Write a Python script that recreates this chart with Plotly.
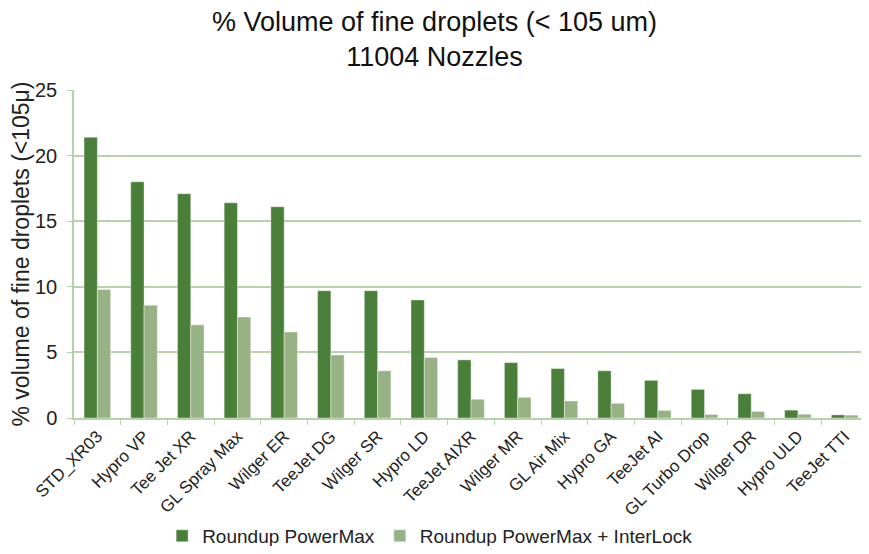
import plotly.graph_objects as go

categories = ["STD_XR03", "Hypro VP", "Tee Jet XR", "GL Spray Max", "Wilger ER",
              "TeeJet DG", "Wilger SR", "Hypro LD", "TeeJet AIXR", "Wilger MR",
              "GL Air Mix", "Hypro GA", "TeeJet AI", "GL Turbo Drop", "Wilger DR",
              "Hypro ULD", "TeeJet TTI"]
powermax = [21.4, 18.0, 17.1, 16.4, 16.1, 9.7, 9.7, 9.0, 4.43, 4.22,
            3.77, 3.6, 2.87, 2.18, 1.85, 0.6, 0.24]
powermax_interlock = [9.8, 8.6, 7.1, 7.7, 6.56, 4.8, 3.6, 4.62, 1.43, 1.58,
                      1.3, 1.12, 0.58, 0.27, 0.5, 0.29, 0.22]
y_ticks = [0, 5, 10, 15, 20, 25]

dark = "#4A7F3A"
light = "#97B385"
grid = "#B9D0AD"

fig = go.Figure()
fig.add_trace(go.Bar(x=categories, y=powermax, name="Roundup PowerMax",
                     marker=dict(color=dark, line=dict(color="rgba(255,255,255,0.5)", width=0.8))))
fig.add_trace(go.Bar(x=categories, y=powermax_interlock, name="Roundup PowerMax + InterLock",
                     marker=dict(color=light, line=dict(color="rgba(255,255,255,0.5)", width=0.8))))

fig.update_layout(
    width=853, height=538,
    margin=dict(l=66, r=0, t=82, b=128),
    paper_bgcolor="white", plot_bgcolor="white",
    barmode="group", bargap=0.43, bargroupgap=0,
    font=dict(family="Liberation Sans, Arial, sans-serif", color="#222"),
    title=dict(text="% Volume of fine droplets (< 105 um)<br>11004 Nozzles",
               x=0.5, xanchor="center", yref="container", y=0.957, yanchor="middle",
               font=dict(size=27, color="#111")),
    legend=dict(orientation="h", x=0.112, xanchor="left",
                yref="container", y=0.0186, yanchor="middle",
                font=dict(size=19, color="#222"), itemwidth=30,
                traceorder="normal"),
    xaxis=dict(range=[-0.5, 16.35], showline=True, linecolor=grid, linewidth=1.5,
               ticks="outside", tickson="boundaries", ticklen=5, tickcolor=grid,
               tickangle=-45, tickfont=dict(size=17, color="#222"), showgrid=False,
               automargin=False),
    yaxis=dict(range=[0, 25], tickvals=y_ticks, showline=True, linecolor=grid, linewidth=1.5,
               ticks="outside", ticklen=5, tickcolor=grid,
               gridcolor=grid, gridwidth=1.5, zeroline=False,
               tickfont=dict(size=20, color="#222"), ticklabelstandoff=6,
               automargin=False,
               title=dict(text="% volume of fine droplets (<105μ)", font=dict(size=23, color="#222"),
                          standoff=6)),
)

fig.write_html("out.html")
